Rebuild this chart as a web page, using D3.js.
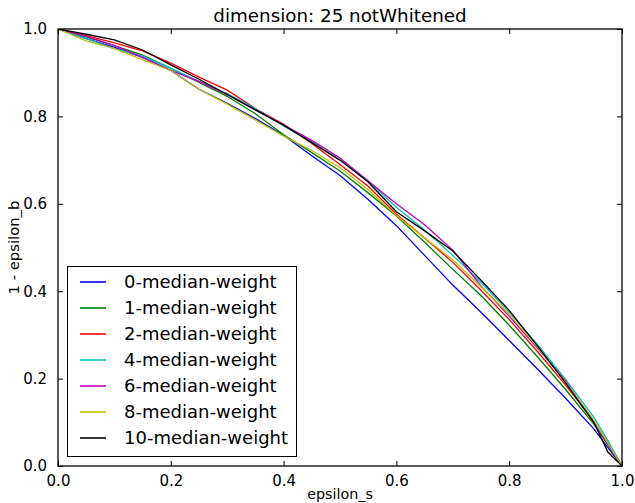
<!DOCTYPE html>
<html>
<head>
<meta charset="utf-8">
<script src="https://cdn.jsdelivr.net/npm/d3@7"></script>
<style>
  html, body { margin: 0; padding: 0; background: #fff; }
  svg { display: block; }
  text { font-family: "DejaVu Sans", sans-serif; }
</style>
</head>
<body>
<svg id="chart" width="635" height="503"></svg>
<script>
const epsilonS = [0, 0.05, 0.1, 0.15, 0.2, 0.25, 0.3, 0.35, 0.4, 0.45, 0.5, 0.55, 0.6, 0.65, 0.7, 0.75, 0.8, 0.85, 0.9, 0.95, 0.975, 1.0];

const seriesNames = ["0-median-weight", "1-median-weight", "2-median-weight", "4-median-weight", "6-median-weight", "8-median-weight", "10-median-weight"];
const seriesColors = ["#0000ff", "#008000", "#ff0000", "#00bfbf", "#bf00bf", "#bfbf00", "#000000"];

const w0  = [1, 0.978, 0.958, 0.935, 0.905, 0.862, 0.830, 0.795, 0.757, 0.710, 0.665, 0.610, 0.550, 0.482, 0.414, 0.352, 0.287, 0.222, 0.155, 0.085, 0.042, 0];
const w1  = [1, 0.982, 0.962, 0.940, 0.910, 0.878, 0.846, 0.806, 0.758, 0.717, 0.675, 0.625, 0.572, 0.512, 0.450, 0.390, 0.322, 0.250, 0.175, 0.096, 0.048, 0];
const w2  = [1, 0.985, 0.968, 0.950, 0.922, 0.890, 0.860, 0.818, 0.782, 0.738, 0.690, 0.640, 0.576, 0.522, 0.466, 0.402, 0.335, 0.262, 0.185, 0.102, 0.052, 0];
const w4  = [1, 0.978, 0.955, 0.938, 0.910, 0.880, 0.852, 0.818, 0.778, 0.742, 0.700, 0.652, 0.592, 0.540, 0.482, 0.420, 0.352, 0.278, 0.198, 0.112, 0.058, 0];
const w6  = [1, 0.983, 0.962, 0.935, 0.905, 0.880, 0.850, 0.815, 0.780, 0.745, 0.705, 0.652, 0.600, 0.552, 0.494, 0.412, 0.343, 0.270, 0.195, 0.100, 0.050, 0];
const w8  = [1, 0.973, 0.955, 0.930, 0.905, 0.862, 0.828, 0.792, 0.755, 0.722, 0.683, 0.632, 0.573, 0.522, 0.472, 0.410, 0.348, 0.272, 0.192, 0.105, 0.052, 0];
const w10 = [1, 0.988, 0.975, 0.952, 0.918, 0.885, 0.850, 0.815, 0.780, 0.740, 0.700, 0.650, 0.582, 0.538, 0.492, 0.425, 0.356, 0.275, 0.190, 0.100, 0.032, 0];

const seriesValues = [w0, w1, w2, w4, w6, w8, w10];

const xTicks = [0, 0.2, 0.4, 0.6, 0.8, 1.0];
const yTicks = [0, 0.2, 0.4, 0.6, 0.8, 1.0];

const titleText = "dimension: 25 notWhitened";
const xLabel = "epsilon_s";
const yLabel = "1 - epsilon_b";

const svg = d3.select("#chart");
const L = 58, R = 622, T = 29, B = 466;

const x = d3.scaleLinear().domain([0, 1]).range([L, R]);
const y = d3.scaleLinear().domain([0, 1]).range([B, T]);

// curves
const line = d3.line().x(d => x(d[0])).y(d => y(d[1]));
svg.append("defs").append("clipPath").attr("id", "clip")
  .append("rect").attr("x", L).attr("y", T).attr("width", R - L).attr("height", B - T);

const g = svg.append("g").attr("clip-path", "url(#clip)");
seriesValues.forEach((vals, i) => {
  g.append("path")
    .datum(epsilonS.map((s, j) => [s, vals[j]]))
    .attr("d", line)
    .attr("fill", "none")
    .attr("stroke", seriesColors[i])
    .attr("stroke-width", 1.3);
});

// axes (ticks inside, all four sides)
const fmt = d3.format(".1f");
const axB = d3.axisBottom(x).tickValues(xTicks).tickFormat(fmt).tickSizeInner(-5).tickSizeOuter(0).tickPadding(9);
const axT = d3.axisTop(x).tickValues(xTicks).tickFormat("").tickSizeInner(-5).tickSizeOuter(0);
const axL = d3.axisLeft(y).tickValues(yTicks).tickFormat(fmt).tickSizeInner(-5).tickSizeOuter(0).tickPadding(11);
const axR = d3.axisRight(y).tickValues(yTicks).tickFormat("").tickSizeInner(-5).tickSizeOuter(0);

function style(sel) {
  sel.select(".domain").remove();
  sel.selectAll("line").attr("stroke", "#000").attr("stroke-width", 1);
  sel.selectAll("text").attr("font-family", "DejaVu Sans").attr("font-size", 15).attr("fill", "#000");
}
svg.append("g").attr("transform", `translate(0,${B})`).call(axB).call(style);
svg.append("g").attr("transform", `translate(0,${T})`).call(axT).call(style);
svg.append("g").attr("transform", `translate(${L},0)`).call(axL).call(style);
svg.append("g").attr("transform", `translate(${R},0)`).call(axR).call(style);

// frame
svg.append("rect").attr("x", L).attr("y", T).attr("width", R - L).attr("height", B - T)
  .attr("fill", "none").attr("stroke", "#000").attr("stroke-width", 1.3);

// title & labels
svg.append("text").attr("x", (L + R) / 2).attr("y", 22).attr("text-anchor", "middle")
  .attr("font-size", 18.3).attr("fill", "#000").text(titleText);
svg.append("text").attr("x", (L + R) / 2).attr("y", 499).attr("text-anchor", "middle")
  .attr("font-size", 14.3).attr("fill", "#000").text(xLabel);
svg.append("text").attr("transform", `translate(19,${(T + B) / 2}) rotate(-90)`).attr("text-anchor", "middle")
  .attr("font-size", 14.8).attr("fill", "#000").text(yLabel);

// legend
const lg = svg.append("g");
lg.append("rect").attr("x", 67.5).attr("y", 266.5).attr("width", 229).attr("height", 190)
  .attr("fill", "#fff").attr("stroke", "#000").attr("stroke-width", 1);
seriesNames.forEach((name, i) => {
  const cy = 282 + 26 * i;
  lg.append("line").attr("x1", 80).attr("x2", 106).attr("y1", cy).attr("y2", cy)
    .attr("stroke", seriesColors[i]).attr("stroke-width", 1.6);
  lg.append("text").attr("x", 124).attr("y", cy).attr("dy", "0.35em")
    .attr("font-size", 18).attr("fill", "#000").text(name);
});
</script>
</body>
</html>
